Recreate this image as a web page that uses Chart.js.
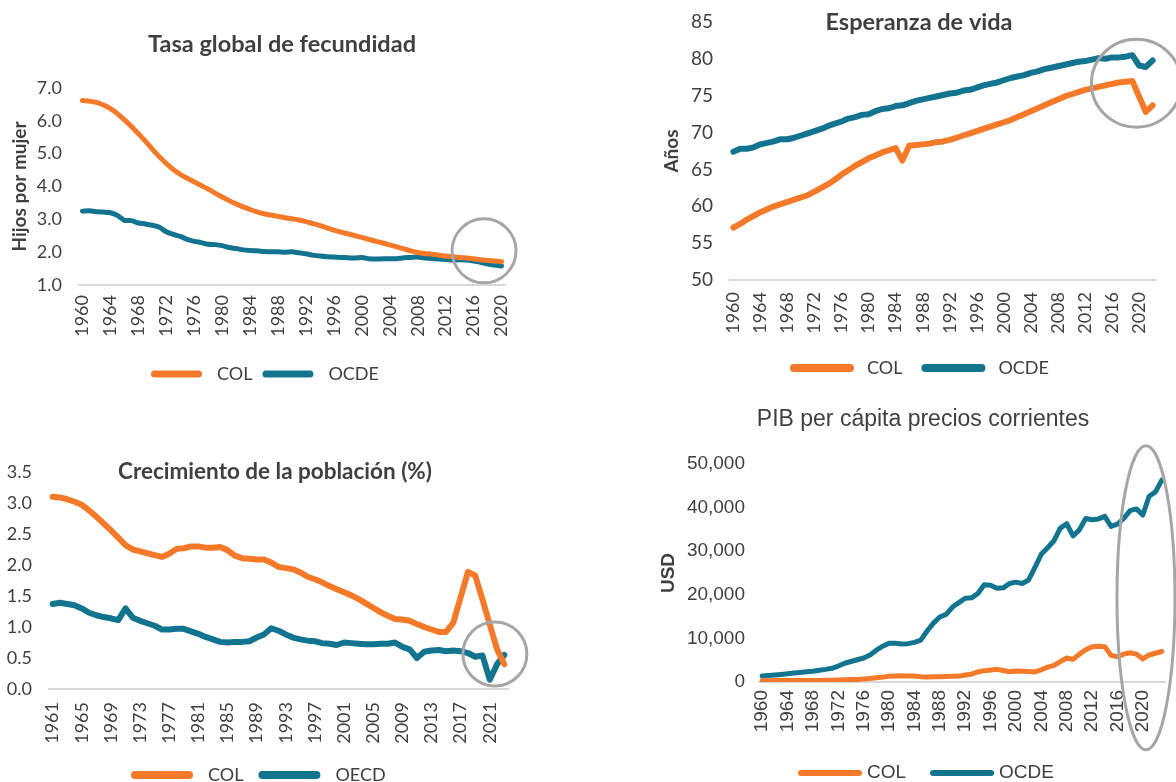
<!DOCTYPE html>
<html lang="es">
<head>
<meta charset="utf-8">
<title>Indicadores COL vs OCDE</title>
<script src="https://cdn.jsdelivr.net/npm/chart.js@4.4.1/dist/chart.umd.min.js"></script>
<style>
    body { margin: 0; background: #fff; }
    .grafico { position: absolute; width: 588px; height: 391px; }
</style>
</head>
<body>
<div class="grafico" style="left:0;top:0"><canvas id="fecundidad" width="588" height="391"></canvas></div>
<div class="grafico" style="left:588px;top:0"><canvas id="esperanza" width="588" height="391"></canvas></div>
<div class="grafico" style="left:0;top:391px"><canvas id="crecimiento" width="588" height="391"></canvas></div>
<div class="grafico" style="left:588px;top:391px"><canvas id="pib" width="588" height="391"></canvas></div>
<script>
const NARANJA = "#F47A2A";
const AZUL = "#13748F";
const GRIS_TEXTO = "#404040";

function aniosDesde(inicio, fin) {
    const anios = [];
    for (let a = inicio; a <= fin; a++) anios.push(String(a));
    return anios;
}

// Tasa global de fecundidad, 1960-2020
const aniosFecundidad = aniosDesde(1960, 2020);
const fecundidadCol = [6.62, 6.60, 6.56, 6.48, 6.37, 6.22, 6.03, 5.83, 5.61, 5.38,
    5.14, 4.91, 4.70, 4.52, 4.37, 4.25, 4.14, 4.03, 3.92, 3.80,
    3.68, 3.57, 3.47, 3.38, 3.30, 3.23, 3.17, 3.13, 3.09, 3.05,
    3.02, 2.98, 2.93, 2.87, 2.81, 2.74, 2.67, 2.61, 2.56, 2.50,
    2.45, 2.39, 2.33, 2.28, 2.22, 2.16, 2.10, 2.04, 1.99, 1.96,
    1.94, 1.91, 1.88, 1.86, 1.84, 1.82, 1.80, 1.77, 1.75, 1.73, 1.71];
const fecundidadOcde = [3.25, 3.26, 3.23, 3.22, 3.20, 3.12, 2.97, 2.96, 2.89, 2.86,
    2.82, 2.76, 2.62, 2.54, 2.48, 2.39, 2.33, 2.29, 2.24, 2.23,
    2.20, 2.14, 2.11, 2.07, 2.05, 2.04, 2.02, 2.01, 2.01, 2.00,
    2.01, 1.98, 1.95, 1.91, 1.88, 1.86, 1.85, 1.84, 1.83, 1.82,
    1.84, 1.80, 1.79, 1.80, 1.80, 1.80, 1.83, 1.84, 1.85, 1.82,
    1.81, 1.79, 1.78, 1.76, 1.77, 1.76, 1.73, 1.69, 1.64, 1.61, 1.58];

// Esperanza de vida, 1960-2022
const aniosEsperanza = aniosDesde(1960, 2022);
const esperanzaCol = [57.1, 57.6, 58.2, 58.7, 59.2, 59.6, 60.0, 60.3, 60.6, 60.9,
    61.2, 61.5, 62.0, 62.5, 63.0, 63.6, 64.3, 64.9, 65.5, 66.0,
    66.5, 66.9, 67.3, 67.6, 67.9, 66.2, 68.2, 68.3, 68.4, 68.5,
    68.7, 68.8, 69.0, 69.3, 69.6, 69.9, 70.2, 70.5, 70.8, 71.1,
    71.4, 71.7, 72.1, 72.5, 72.9, 73.3, 73.7, 74.1, 74.5, 74.9,
    75.2, 75.5, 75.8, 76.0, 76.2, 76.4, 76.6, 76.8, 76.9, 77.0,
    74.9, 72.8, 73.7];
const esperanzaOcde = [67.4, 67.8, 67.8, 68.0, 68.4, 68.6, 68.8, 69.1, 69.1, 69.3,
    69.6, 69.9, 70.2, 70.5, 70.9, 71.2, 71.5, 71.9, 72.1, 72.4,
    72.5, 72.9, 73.2, 73.3, 73.6, 73.7, 74.0, 74.3, 74.5, 74.7,
    74.9, 75.1, 75.3, 75.4, 75.7, 75.8, 76.1, 76.4, 76.6, 76.8,
    77.1, 77.4, 77.6, 77.8, 78.1, 78.3, 78.6, 78.8, 79.0, 79.2,
    79.4, 79.6, 79.7, 79.9, 80.1, 80.0, 80.2, 80.2, 80.3, 80.5,
    79.1, 78.9, 79.8];

// Crecimiento de la población (%), 1961-2023
const aniosCrecimiento = aniosDesde(1961, 2023);
const crecimientoCol = [3.10, 3.09, 3.06, 3.02, 2.97, 2.88, 2.78, 2.67, 2.56, 2.44,
    2.32, 2.25, 2.22, 2.19, 2.16, 2.13, 2.18, 2.26, 2.27, 2.30,
    2.30, 2.28, 2.28, 2.29, 2.24, 2.15, 2.11, 2.10, 2.09, 2.09,
    2.04, 1.97, 1.95, 1.93, 1.88, 1.81, 1.77, 1.72, 1.66, 1.61,
    1.56, 1.51, 1.45, 1.38, 1.31, 1.24, 1.18, 1.13, 1.12, 1.10,
    1.05, 1.00, 0.96, 0.92, 0.92, 1.07, 1.48, 1.89, 1.83, 1.44,
    1.04, 0.64, 0.40];
const crecimientoOecd = [1.37, 1.39, 1.37, 1.35, 1.30, 1.23, 1.19, 1.16, 1.14, 1.11,
    1.30, 1.15, 1.10, 1.06, 1.02, 0.96, 0.96, 0.97, 0.97, 0.93,
    0.89, 0.84, 0.80, 0.76, 0.75, 0.76, 0.76, 0.77, 0.83, 0.88,
    0.98, 0.94, 0.88, 0.83, 0.80, 0.78, 0.77, 0.74, 0.73, 0.71,
    0.75, 0.74, 0.73, 0.72, 0.72, 0.73, 0.73, 0.75, 0.68, 0.64,
    0.50, 0.60, 0.62, 0.63, 0.61, 0.62, 0.61, 0.58, 0.52, 0.54,
    0.15, 0.40, 0.55];

// PIB per cápita precios corrientes (USD), 1960-2023
const aniosPib = aniosDesde(1960, 2023);
const pibCol = [300, 300, 320, 320, 350, 340, 330, 330, 340, 360,
    390, 420, 450, 500, 560, 600, 680, 820, 960, 1120,
    1300, 1400, 1450, 1400, 1370, 1230, 1160, 1180, 1230, 1250,
    1300, 1350, 1600, 1800, 2300, 2600, 2750, 2900, 2650, 2350,
    2500, 2450, 2400, 2300, 2800, 3400, 3800, 4700, 5500, 5200,
    6400, 7400, 8100, 8200, 8100, 6100, 5800, 6400, 6700, 6400,
    5300, 6200, 6600, 7000];
const pibOcde = [1380, 1480, 1600, 1730, 1880, 2040, 2200, 2330, 2480, 2700,
    2900, 3150, 3650, 4300, 4700, 5100, 5500, 6200, 7300, 8200,
    8900, 8900, 8700, 8800, 9100, 9600, 11700, 13500, 14900, 15500,
    17200, 18200, 19200, 19300, 20300, 22300, 22200, 21500, 21600, 22600,
    22900, 22600, 23400, 26300, 29300, 30800, 32400, 35300, 36300, 33500,
    34900, 37500, 37200, 37400, 38000, 35700, 36200, 37500, 39300, 39700,
    38300, 42600, 43600, 46300];

const ALTO_EJE_X = 60;

// titulo y leyenda dibujados sobre el canvas, elipses grises en coordenadas de datos
const pluginTextos = {
    id: "textos",
    afterDatasetsDraw(chart, args, opts) {
        const ctx = chart.ctx;
        const x = chart.scales.x;
        const y = chart.scales.y;
        ctx.save();
        ctx.strokeStyle = "#A6A6A6";
        ctx.lineWidth = 3;
        ctx.beginPath();
        const c = opts.circulo;
        ctx.ellipse(x.getPixelForValue(c.anio - Number(chart.data.labels[0])), y.getPixelForValue(c.valor), c.rx, c.ry, 0, 0, Math.PI * 2);
        ctx.stroke();
        ctx.restore();
    },
    afterDraw(chart, args, opts) {
        const ctx = chart.ctx;
        ctx.save();
        const t = opts.titulo;
        ctx.fillStyle = GRIS_TEXTO;
        ctx.font = t.fuente;
        ctx.textAlign = "center";
        ctx.textBaseline = "alphabetic";
        ctx.fillText(t.texto, t.x, t.y);

        const l = opts.leyenda;
        ctx.font = l.fuente;
        ctx.textAlign = "left";
        ctx.textBaseline = "middle";
        ctx.lineCap = "round";
        let cursor = l.x;
        chart.data.datasets.forEach(ds => {
            ctx.strokeStyle = ds.borderColor;
            ctx.lineWidth = l.grosor;
            ctx.beginPath();
            ctx.moveTo(cursor + l.grosor / 2, l.y);
            ctx.lineTo(cursor + l.largo - l.grosor / 2, l.y);
            ctx.stroke();
            cursor += l.largo + l.separacion;
            ctx.fillStyle = GRIS_TEXTO;
            ctx.fillText(ds.label, cursor, l.y);
            cursor += ctx.measureText(ds.label).width + l.espacio;
        });
        ctx.restore();
    }
};

function crearGrafico(id, cfg) {
    const area = cfg.area;
    return new Chart(document.getElementById(id), {
        type: "line",
        data: {
            labels: cfg.anios,
            datasets: cfg.series.map(s => ({
                label: s.nombre,
                data: s.datos,
                borderColor: s.color,
                backgroundColor: s.color,
                borderWidth: cfg.grosor,
                pointRadius: 0,
                tension: cfg.tension || 0,
                borderCapStyle: "round",
                borderJoinStyle: "round"
            }))
        },
        options: {
            responsive: false,
            animation: false,
            layout: {
                padding: { left: 0, top: area.top, right: 588 - area.right, bottom: 391 - area.bottom - ALTO_EJE_X }
            },
            plugins: {
                legend: { display: false },
                title: { display: false },
                tooltip: { enabled: false },
                textos: { titulo: cfg.titulo, leyenda: cfg.leyenda, circulo: cfg.circulo }
            },
            scales: {
                x: {
                    offset: true,
                    grid: { display: false, drawTicks: false },
                    border: { color: "#D9D9D9", width: 2 },
                    ticks: {
                        autoSkip: false,
                        maxRotation: 90,
                        minRotation: 90,
                        padding: cfg.paddingX,
                        color: GRIS_TEXTO,
                        // lineHeight corto: la ultima etiqueta no recorta el area por la derecha
                        font: { family: cfg.fuenteEjes, size: cfg.tamanoX, lineHeight: 0.1 },
                        callback: (valor, i) => i % 4 === 0 ? cfg.anios[i] : ""
                    },
                    afterFit: escala => { escala.height = ALTO_EJE_X; }
                },
                y: {
                    min: cfg.min,
                    max: cfg.max,
                    grid: { display: false, drawTicks: false },
                    border: { display: false },
                    ticks: {
                        stepSize: cfg.paso,
                        padding: cfg.paddingY,
                        color: GRIS_TEXTO,
                        // lineHeight corto para que la etiqueta superior no empuje el area del grafico
                        font: { family: cfg.fuenteEjes, size: cfg.tamanoY, lineHeight: 0.1 },
                        callback: cfg.formato
                    },
                    title: cfg.tituloY ? {
                        display: true,
                        text: cfg.tituloY.texto,
                        color: GRIS_TEXTO,
                        font: { family: cfg.fuenteEjes, size: cfg.tituloY.tamano, weight: "bold" },
                        padding: { top: cfg.tituloY.desplazamiento, bottom: 0 }
                    } : { display: false },
                    afterFit: escala => { escala.width = area.left; }
                }
            }
        },
        plugins: [pluginTextos]
    });
}

crearGrafico("fecundidad", {
    anios: aniosFecundidad,
    series: [
        { nombre: "COL", datos: fecundidadCol, color: NARANJA },
        { nombre: "OCDE", datos: fecundidadOcde, color: AZUL }
    ],
    grosor: 5,
    tension: 0.3,
    area: { left: 79, top: 88, right: 505, bottom: 285 },
    min: 1, max: 7, paso: 1,
    formato: v => v.toFixed(1),
    fuenteEjes: "Lato", tamanoX: 18, tamanoY: 18, paddingX: 10, paddingY: 17,
    tituloY: { texto: "Hijos por mujer", tamano: 19, desplazamiento: 8 },
    titulo: { texto: "Tasa global de fecundidad", x: 282, y: 52, fuente: "bold 23.5px Lato" },
    leyenda: { x: 151, y: 374, largo: 51, grosor: 7, separacion: 15, espacio: 10, fuente: "18px Lato" },
    circulo: { anio: 2017.5, valor: 2.04, rx: 32, ry: 32 }
});

crearGrafico("esperanza", {
    anios: aniosEsperanza,
    series: [
        { nombre: "COL", datos: esperanzaCol, color: NARANJA },
        { nombre: "OCDE", datos: esperanzaOcde, color: AZUL }
    ],
    grosor: 6,
    area: { left: 142, top: 22, right: 568, bottom: 280 },
    min: 50, max: 85, paso: 5,
    formato: v => String(v),
    fuenteEjes: "Lato", tamanoX: 18, tamanoY: 19, paddingX: 12, paddingY: 17,
    tituloY: { texto: "Años", tamano: 19, desplazamiento: 72 },
    titulo: { texto: "Esperanza de vida", x: 331, y: 30, fuente: "bold 23.5px Lato" },
    leyenda: { x: 202, y: 368, largo: 64, grosor: 8, separacion: 13, espacio: 19, fuente: "18px Lato" },
    circulo: { anio: 2019.6, valor: 76.7, rx: 45, ry: 44 }
});

crearGrafico("crecimiento", {
    anios: aniosCrecimiento,
    series: [
        { nombre: "COL", datos: crecimientoCol, color: NARANJA },
        { nombre: "OECD", datos: crecimientoOecd, color: AZUL }
    ],
    grosor: 6,
    area: { left: 49, top: 81, right: 508, bottom: 298 },
    min: 0, max: 3.5, paso: 0.5,
    formato: v => v.toFixed(1),
    fuenteEjes: "Lato", tamanoX: 18, tamanoY: 18, paddingX: 13, paddingY: 17,
    titulo: { texto: "Crecimiento de la población (%)", x: 275, y: 88, fuente: "bold 22.5px Lato" },
    leyenda: { x: 131, y: 384, largo: 62, grosor: 8, separacion: 15, espacio: 15, fuente: "18px Lato" },
    circulo: { anio: 2021.7, valor: 0.565, rx: 32, ry: 32 }
});

crearGrafico("pib", {
    anios: aniosPib,
    series: [
        { nombre: "COL", datos: pibCol, color: NARANJA },
        { nombre: "OCDE", datos: pibOcde, color: AZUL }
    ],
    grosor: 5,
    area: { left: 171, top: 73, right: 577, bottom: 291 },
    min: 0, max: 50000, paso: 10000,
    formato: v => v.toLocaleString("en-US"),
    fuenteEjes: "Liberation Sans", tamanoX: 19, tamanoY: 19, paddingX: 8, paddingY: 14,
    tituloY: { texto: "USD", tamano: 19, desplazamiento: 69 },
    titulo: { texto: "PIB per cápita precios corrientes", x: 335, y: 35, fuente: "23px 'Liberation Sans'" },
    leyenda: { x: 210, y: 382, largo: 64, grosor: 6, separacion: 5, espacio: 24, fuente: "19px 'Liberation Sans'" },
    circulo: { anio: 2020.5, valor: 19300, rx: 29, ry: 152 }
});
</script>
</body>
</html>
